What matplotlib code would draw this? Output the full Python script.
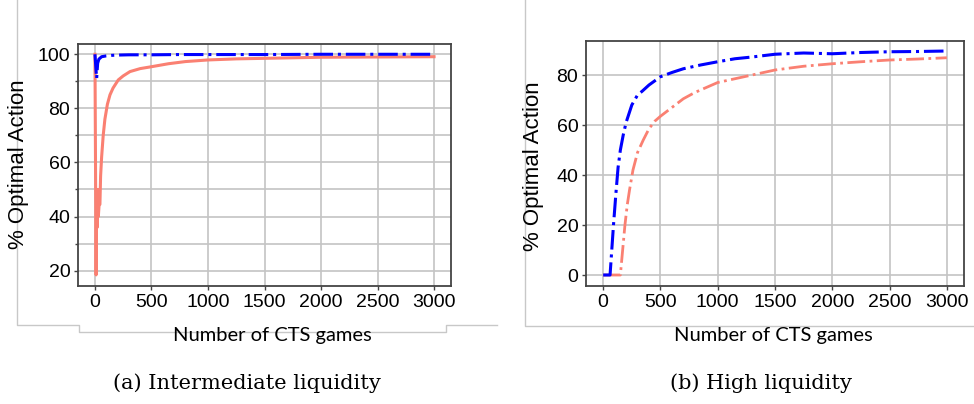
import matplotlib.pyplot as plt
from matplotlib.lines import Line2D
from matplotlib.ticker import MultipleLocator

# (a) intermediate liquidity
a_blue_x = [0, 8, 15, 24, 35, 59, 100, 150, 200, 300, 500, 750, 1000, 1500, 2000, 2500, 3000]
a_blue_y = [100, 95, 91.1, 96.7, 98.2, 99.1, 99.4, 99.6, 99.7, 99.8, 99.8, 99.9, 99.9, 99.9, 100, 100, 100]
a_red_x = [0, 10, 15, 20, 25, 30, 36, 44, 50, 59, 73, 88, 110, 133, 160, 206, 250, 310, 400, 500,
           650, 800, 1000, 1250, 1500, 2000, 2500, 3000]
a_red_y = [100, 18.4, 50, 36, 50, 40, 44, 44.5, 55, 62, 70, 76, 81.5, 85, 87.5, 90.5, 92, 93.6, 94.7, 95.4,
           96.5, 97.3, 97.9, 98.3, 98.5, 98.9, 99.0, 99.1]

# (b) high liquidity
b_blue_x = [0, 60, 75, 90, 110, 130, 150, 175, 200, 250, 300, 340, 400, 500, 600, 700, 850, 1000,
            1150, 1300, 1500, 1750, 2000, 2250, 2500, 2750, 3000]
b_blue_y = [0, 0, 10, 20, 32, 43, 50, 56, 61, 68, 72, 73.5, 76, 79.3, 81, 82.5, 84, 85.3,
            86.5, 87.2, 88.3, 88.8, 88.5, 89.0, 89.3, 89.4, 89.6]
b_red_x = [0, 150, 170, 190, 210, 230, 260, 300, 350, 400, 450, 500, 600, 700, 800, 1000, 1250,
           1500, 1750, 2000, 2250, 2500, 2750, 3000]
b_red_y = [0, 0, 10, 20, 28, 34, 42, 49, 54, 58.5, 61.5, 63.5, 67, 70.5, 73, 77, 79.5,
           82, 83.5, 84.5, 85.3, 86, 86.4, 86.9]

xticks = [0, 500, 1000, 1500, 2000, 2500, 3000]

plt.rcParams['font.family'] = ['Liberation Sans', 'DejaVu Sans']
fig = plt.figure(figsize=(9.74, 4.04), dpi=100)
W, H = 974.0, 404.0

ax1 = fig.add_axes([78 / W, 1 - 286 / H, 373 / W, 242 / H])
ax2 = fig.add_axes([586 / W, 1 - 286 / H, 378 / W, 245 / H])

ax1.plot(a_blue_x, a_blue_y, color='blue', ls='-.', lw=2.2, zorder=3)
ax1.plot(a_red_x, a_red_y, color='salmon', ls='-', lw=2.2, zorder=2)
ax2.plot(b_blue_x, b_blue_y, color='blue', ls='-.', lw=2.2, zorder=3)
ax2.plot(b_red_x, b_red_y, color='salmon', ls='-.', lw=2.0, zorder=2)

ax1.set_ylim(14.3, 103.8)
ax1.set_yticks([20, 40, 60, 80, 100])
ax1.yaxis.set_minor_locator(MultipleLocator(10))
ax1.grid(True, which='both', axis='y', color='#c4c4c4', lw=1.2)
ax1.grid(True, which='major', axis='x', color='#c4c4c4', lw=1.2)

ax2.set_ylim(-4.4, 93.6)
ax2.set_yticks([0, 20, 40, 60, 80])
ax2.grid(True, color='#c4c4c4', lw=1.2)

for ax in (ax1, ax2):
    ax.set_xlim(-150, 3150)
    ax.set_xticks(xticks)
    ax.tick_params(labelsize=14, length=3, width=1, pad=2.5, color='#444444')
    ax.tick_params(which='minor', length=2, width=1, color='#444444')
    ax.set_axisbelow(True)
    for s in ax.spines.values():
        s.set_color('#444444')
        s.set_linewidth(1.3)

fig.text(19 / W, 1 - 164 / H, '% Optimal Action', rotation=90, ha='center', va='center', fontsize=16)
fig.text(534 / W, 1 - 166 / H, '% Optimal Action', rotation=90, ha='center', va='center', fontsize=16)

fig.text(272 / W, 1 - 336 / H, 'Number of CTS games', ha='center', va='center', fontsize=14.5, family='Lato')
fig.text(773 / W, 1 - 335 / H, 'Number of CTS games', ha='center', va='center', fontsize=14.5, family='Lato')

fig.text(247 / W, 1 - 383 / H, '(a) Intermediate liquidity', ha='center', va='center', fontsize=15,
         family='DejaVu Serif')
fig.text(761 / W, 1 - 383 / H, '(b) High liquidity', ha='center', va='center', fontsize=15,
         family='DejaVu Serif')

# grey frame lines around the panels
def frame(xs, ys):
    fig.add_artist(Line2D([x / W for x in xs], [1 - y / H for y in ys], color='#c8c8c8', lw=1))

frame([17, 17, 79, 79, 446, 446, 497], [0, 325, 325, 332, 332, 325, 325])
frame([525, 525, 974], [0, 326, 326])

fig.savefig('out.png', dpi=100)
